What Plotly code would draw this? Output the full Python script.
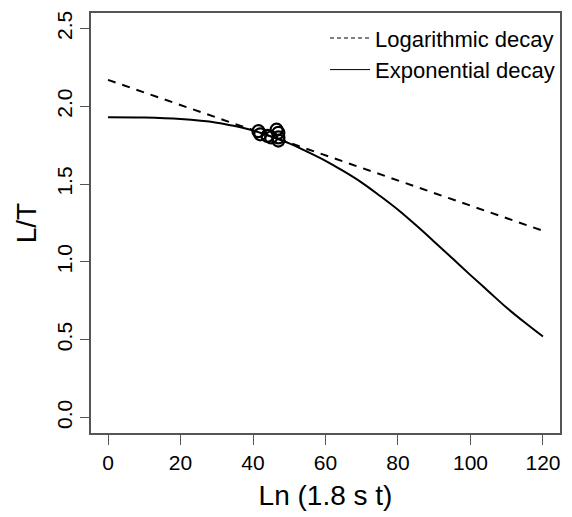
import plotly.graph_objects as go

# Data
log_x = [0, 120]
log_y = [2.17, 1.20]

exp_x = [0, 10, 20, 30, 35, 40, 45, 50, 55, 60, 65, 70, 75, 80, 85, 90, 95, 100, 105, 110, 115, 120]
exp_y = [1.930, 1.928, 1.918, 1.895, 1.873, 1.845, 1.805, 1.762, 1.708, 1.650, 1.583, 1.510,
         1.425, 1.335, 1.235, 1.130, 1.023, 0.915, 0.810, 0.705, 0.610, 0.520]

obs_x = [41.5, 42.0, 44.0, 45.0, 46.5, 47.0, 47.0, 47.0]
obs_y = [1.84, 1.82, 1.81, 1.80, 1.85, 1.83, 1.80, 1.78]

x_ticks = [0, 20, 40, 60, 80, 100, 120]
y_ticks = [0.0, 0.5, 1.0, 1.5, 2.0, 2.5]
y_tick_text = ["0.0", "0.5", "1.0", "1.5", "2.0", "2.5"]

FONT = "Liberation Sans, Arial, sans-serif"
AX = "#555555"

fig = go.Figure()
fig.add_trace(go.Scatter(x=log_x, y=log_y, mode="lines",
                         line=dict(color="black", width=2, dash="8px,7px"),
                         showlegend=False))
fig.add_trace(go.Scatter(x=exp_x, y=exp_y, mode="lines", line_shape="spline",
                         line=dict(color="black", width=2),
                         showlegend=False))
fig.add_trace(go.Scatter(x=obs_x, y=obs_y, mode="markers",
                         marker=dict(symbol="circle-open", size=12, color="black",
                                     line=dict(width=2.2, color="black")),
                         showlegend=False))
# legend entries
fig.add_trace(go.Scatter(x=[None], y=[None], mode="lines", name="Logarithmic decay",
                         line=dict(color="black", width=1, dash="4px,3px")))
fig.add_trace(go.Scatter(x=[None], y=[None], mode="lines", name="Exponential decay",
                         line=dict(color="black", width=1)))

fig.update_layout(
    width=572, height=517,
    margin=dict(l=91, r=10, t=13, b=84),
    paper_bgcolor="white", plot_bgcolor="white",
    font=dict(family=FONT, color="black"),
    legend=dict(x=1.0, xanchor="right", y=0.99, yanchor="top",
                bgcolor="rgba(0,0,0,0)", font=dict(size=22, family=FONT),
                tracegroupgap=0, itemwidth=40),
    xaxis=dict(range=[-4.7, 124.7], tickvals=x_ticks, ticks="outside", ticklen=10,
               tickcolor=AX, tickwidth=1, showline=True, linecolor=AX, linewidth=1.5,
               mirror=True, showgrid=False, zeroline=False,
               tickfont=dict(size=21), title=dict(text="Ln (1.8 s t)", font=dict(size=28), standoff=12)),
    yaxis=dict(range=[-0.1, 2.6], tickvals=y_ticks, ticktext=y_tick_text, ticks="outside",
               ticklen=9, tickcolor=AX, tickwidth=1, showline=True, linecolor=AX, linewidth=1.5,
               mirror=True, showgrid=False, zeroline=False, tickangle=-90,
               tickfont=dict(size=21), title=dict(text="L/T", font=dict(size=28), standoff=8)),
)

fig.write_html("out.html")
